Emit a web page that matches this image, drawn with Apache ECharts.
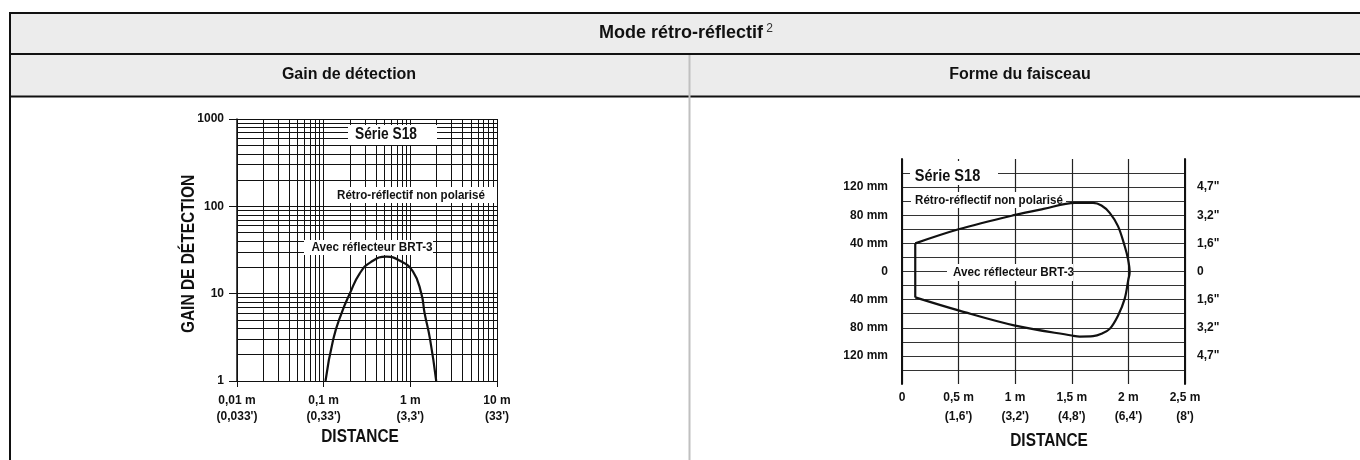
<!DOCTYPE html>
<html>
<head>
<meta charset="utf-8">
<title>Mode rétro-réflectif</title>
<script src="https://cdn.jsdelivr.net/npm/echarts@6/dist/echarts.min.js"></script>
<style>
  html, body { margin: 0; padding: 0; background: #fff; }
  #chart { width: 1360px; height: 460px; }
</style>
</head>
<body>
<div id="chart"></div>
<script>
// ---- gain de détection (log / log)
var gainTicks = [1, 10, 100, 1000];
var gainDistTicks = [0.01, 0.1, 1, 10];
var gainDistLabels = ["0,01 m\n(0,033')", "0,1 m\n(0,33')", "1 m\n(3,3')", "10 m\n(33')"];
var gainMinor = [2, 3, 4, 5, 6, 7, 8, 9];
var gainCurveDist  = [0.105, 0.129, 0.161, 0.2, 0.26, 0.35, 0.53, 0.75, 1.07, 1.34, 1.46, 1.69, 1.99];
var gainCurveValue = [1,     3,     6,     10,  17,   23,   26.5, 24,   18,   10,   6,    3,    1];

// ---- forme du faisceau
var beamDistTicks = [0, 0.5, 1, 1.5, 2, 2.5];
var beamDistLabels = ['0', "0,5 m\n(1,6')", "1 m\n(3,2')", "1,5 m\n(4,8')", "2 m\n(6,4')", "2,5 m\n(8')"];
var beamMmTicks = [120, 80, 40, 0, -40, -80, -120];
var beamMmLabels = ['120 mm', '80 mm', '40 mm', '0', '40 mm', '80 mm', '120 mm'];
var beamInchLabels = ['4,7"', '3,2"', '1,6"', '0', '1,6"', '3,2"', '4,7"'];
var beamEdgeDist = [0.117, 0.117];
var beamEdgeMm = [-37, 40];
var beamDist = [0.117, 0.5, 1.0, 1.25, 1.527, 1.688, 1.762, 1.835, 1.908, 1.967, 1.997, 2.011,
                2.0, 1.967, 1.908, 1.835, 1.762, 1.688, 1.571, 1.5, 1.0, 0.507, 0.117];
var beamMm   = [40, 60, 80.5, 89, 97.5, 97.5, 93.8, 83.4, 64.5, 36.2, 17.4, -1.4,
                -11, -39, -62.8, -81.6, -88.7, -92, -92.5, -91, -77, -55.7, -36.8];

var SANS = '"Liberation Sans", Arial, sans-serif';
var INK = '#111';

function zip(a, b) {
  return a.map(function (v, i) { return [v, b[i]]; });
}

function pickLabel(ticks, labels, v, log) {
  for (var i = 0; i < ticks.length; i++) {
    var d = log ? Math.abs(Math.log10(v) - Math.log10(ticks[i])) : Math.abs(v - ticks[i]);
    if (d < 1e-6) return labels[i];
  }
  return '';
}

var minorLines = [];
gainDistTicks.slice(0, 3).forEach(function (d) {
  gainMinor.forEach(function (k) { minorLines.push({ xAxis: d * k }); });
});
gainTicks.slice(0, 3).forEach(function (d) {
  gainMinor.forEach(function (k) { minorLines.push({ yAxis: d * k }); });
});

var chart = echarts.init(document.getElementById('chart'));

function box(x, y, w, h) {
  return { type: 'rect', z: 100, shape: { x: x, y: y, width: w, height: h }, style: { fill: '#fff' } };
}
// condensed bold label (no narrow font installed, so squeeze it)
function label(text, x, y, size, squeeze, rot) {
  return {
    type: 'text', z: 101, x: x, y: y, scaleX: squeeze || 1, rotation: rot || 0,
    style: { text: text, fill: INK, font: 'bold ' + size + 'px ' + SANS, align: 'center', verticalAlign: 'middle' }
  };
}
function hline(y, x1, x2, w, color) {
  return { type: 'line', z: 90, shape: { x1: x1, y1: y, x2: x2, y2: y }, style: { stroke: color || INK, lineWidth: w } };
}

chart.setOption({
  animation: false,
  grid: [
    { left: 237, top: 119, width: 260, height: 262 },
    { left: 902, top: 159, width: 283, height: 225 }
  ],
  xAxis: [
    {
      gridIndex: 0, type: 'log', logBase: 10, min: 0.01, max: 10, splitNumber: 3,
      axisLine: { show: true, lineStyle: { color: INK, width: 1 } },
      axisTick: { show: true, length: 6, lineStyle: { color: INK } },
      axisLabel: {
        margin: 12, color: INK, fontFamily: SANS, fontWeight: 'bold', fontSize: 12, lineHeight: 16,
        formatter: function (v) { return pickLabel(gainDistTicks, gainDistLabels, v, true); }
      },
      splitLine: { show: true, lineStyle: { color: INK, width: 1 } }
    },
    {
      gridIndex: 1, type: 'value', min: 0, max: 2.5, interval: 0.5,
      axisLine: { show: false },
      axisTick: { show: false },
      axisLabel: {
        margin: 4, color: INK, fontFamily: SANS, fontWeight: 'bold', fontSize: 12, lineHeight: 19,
        formatter: function (v) { return pickLabel(beamDistTicks, beamDistLabels, v, false); }
      },
      splitLine: { show: true, lineStyle: { color: '#222', width: 1.2 } }
    }
  ],
  yAxis: [
    {
      gridIndex: 0, type: 'log', logBase: 10, min: 1, max: 1000, splitNumber: 3,
      axisLine: { show: true, lineStyle: { color: INK, width: 1.5 } },
      axisTick: { show: true, length: 8, lineStyle: { color: INK } },
      axisLabel: {
        margin: 13, color: INK, fontFamily: SANS, fontWeight: 'bold', fontSize: 12,
        formatter: function (v) { return pickLabel(gainTicks, ['1', '10', '100', '1000'], v, true); }
      },
      splitLine: { show: true, lineStyle: { color: INK, width: 1 } }
    },
    {
      gridIndex: 1, type: 'value', min: -160, max: 160, interval: 20, position: 'left',
      axisLine: { show: true, onZero: false, lineStyle: { color: INK, width: 2 } },
      axisTick: { show: false },
      axisLabel: {
        margin: 14, color: INK, fontFamily: SANS, fontWeight: 'bold', fontSize: 12,
        formatter: function (v) { return pickLabel(beamMmTicks, beamMmLabels, v, false); }
      },
      splitLine: { show: true, showMinLine: false, showMaxLine: false, lineStyle: { color: '#333', width: 1.2 } }
    },
    {
      gridIndex: 1, type: 'value', min: -160, max: 160, interval: 20, position: 'right',
      axisLine: { show: true, onZero: false, lineStyle: { color: INK, width: 2 } },
      axisTick: { show: false },
      axisLabel: {
        margin: 12, color: INK, fontFamily: SANS, fontWeight: 'bold', fontSize: 12,
        formatter: function (v) { return pickLabel(beamMmTicks, beamInchLabels, v, false); }
      },
      splitLine: { show: false }
    }
  ],
  series: [
    {
      name: 'grille', type: 'line', xAxisIndex: 0, yAxisIndex: 0, data: [],
      markLine: {
        silent: true, symbol: ['none', 'none'], label: { show: false },
        lineStyle: { type: 'solid', color: INK, width: 1 },
        data: minorLines
      }
    },
    {
      name: 'Avec réflecteur BRT-3', type: 'line', xAxisIndex: 0, yAxisIndex: 0, z: 120,
      data: zip(gainCurveDist, gainCurveValue), smooth: true, showSymbol: false,
      lineStyle: { color: INK, width: 2.2 }
    },
    {
      name: 'bord', type: 'line', xAxisIndex: 1, yAxisIndex: 1, z: 120,
      data: zip(beamEdgeDist, beamEdgeMm), showSymbol: false,
      lineStyle: { color: INK, width: 2.2 }
    },
    {
      name: 'faisceau', type: 'line', xAxisIndex: 1, yAxisIndex: 1, z: 120,
      data: zip(beamDist, beamMm), smooth: 0.35, showSymbol: false,
      lineStyle: { color: INK, width: 2.2 }
    }
  ],
  graphic: [
    // header table
    { type: 'rect', z: 80, shape: { x: 10, y: 13, width: 1360, height: 83 }, style: { fill: '#ececec' } },
    hline(13, 9, 1360, 2),
    hline(54, 9, 1360, 2),
    hline(96.5, 9, 1360, 2),
    { type: 'line', z: 90, shape: { x1: 10, y1: 12, x2: 10, y2: 460 }, style: { stroke: INK, lineWidth: 2 } },
    { type: 'line', z: 90, shape: { x1: 689.5, y1: 55, x2: 689.5, y2: 460 }, style: { stroke: '#c0c0c0', lineWidth: 2 } },
    {
      type: 'text', z: 101, x: 686, y: 33,
      style: {
        text: '{t|Mode rétro-réflectif} {s|2}', align: 'center', verticalAlign: 'middle',
        rich: {
          t: { font: 'bold 18px ' + SANS, fill: INK },
          s: { font: '12px ' + SANS, fill: '#333', verticalAlign: 'top', padding: [0, 0, 8, 0] }
        }
      }
    },
    { type: 'text', z: 101, x: 349, y: 75, style: { text: 'Gain de détection', font: 'bold 16px ' + SANS, fill: INK, align: 'center', verticalAlign: 'middle' } },
    { type: 'text', z: 101, x: 1020, y: 75, style: { text: 'Forme du faisceau', font: 'bold 16px ' + SANS, fill: INK, align: 'center', verticalAlign: 'middle' } },

    // left chart annotations
    box(348, 125, 89, 20), label('Série S18', 386, 135, 16, 0.86),
    box(333, 187, 161, 16), label('Rétro-réflectif non polarisé', 411, 195, 13, 0.89),
    box(304, 240, 129, 15), label('Avec réflecteur BRT-3', 372, 247.5, 13, 0.9),
    label('GAIN DE DÉTECTION', 189, 254, 18, 0.86, Math.PI / 2),
    label('DISTANCE', 360, 437, 18, 0.855),

    // right chart annotations
    box(910, 161, 88, 24), label('Série S18', 947.5, 176, 17, 0.855),
    box(911, 192, 155, 16), label('Rétro-réflectif non polarisé', 989, 200, 13, 0.89),
    box(947, 264, 126, 17), label('Avec réflecteur BRT-3', 1013.5, 272.5, 13, 0.9),
    label('DISTANCE', 1049, 441, 18, 0.855)
  ]
});
</script>
</body>
</html>
